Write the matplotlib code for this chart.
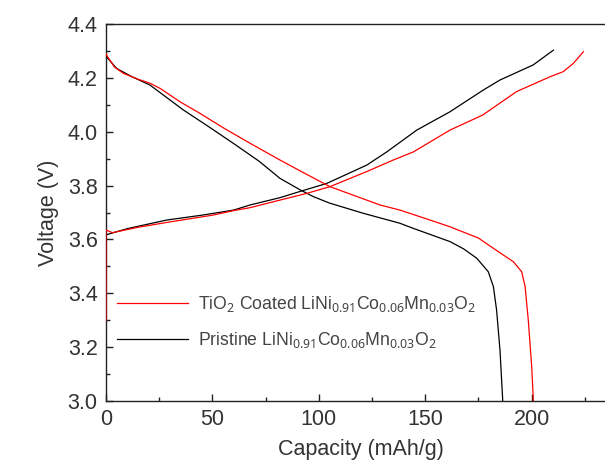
# Import libraries
import matplotlib
matplotlib.use("Agg")
import matplotlib.pyplot as plt
from matplotlib.ticker import MultipleLocator, FormatStrFormatter

# Declare data
## TiO2 coated sample
coated_charge_cap = [0, 0, 3, 15, 30, 50, 60, 67.7, 81.7, 94.3, 105.2, 122.5, 135, 144.4,
                     161.6, 177, 192.9, 208.6, 214.8, 219.6, 224.3]
coated_charge_volt = [3.30, 3.635, 3.625, 3.645, 3.665, 3.69, 3.707, 3.718, 3.746, 3.771, 3.796, 3.852, 3.895, 3.925,
                      4.006, 4.062, 4.149, 4.204, 4.223, 4.254, 4.297]
coated_discharge_cap = [0, 0.7, 4, 8.1, 15, 20.7, 25.4, 35, 44.2, 55, 67.7, 81.7, 91.1, 105.2, 128.7,
                        138.1, 152.2, 161.6, 175, 182, 191.4, 195.3, 196.9, 198.4, 200, 200.8]
coated_discharge_volt = [4.29, 4.279, 4.24, 4.217, 4.195, 4.18, 4.161, 4.11, 4.068, 4.015, 3.957, 3.895, 3.855, 3.796, 3.728,
                         3.709, 3.672, 3.647, 3.605, 3.567, 3.517, 3.48, 3.425, 3.30, 3.127, 3.0]
## Pristine sample
pristine_charge_cap = [0, 0, 10, 28.5, 45, 60, 67.7, 81.7, 91.1, 103.7, 122.5, 131.9, 146,
                       161.6, 177.3, 185.1, 200.7, 210.2]
pristine_charge_volt = [3.47, 3.617, 3.64, 3.672, 3.69, 3.709, 3.728, 3.755, 3.778, 3.808, 3.876, 3.925, 4.006,
                        4.074, 4.155, 4.192, 4.248, 4.303]
pristine_discharge_cap = [0, 5, 12, 20.7, 28, 36.3, 48, 59.8, 72, 81.7, 91, 97.4, 105, 120.9, 138.1,
                          144.4, 161.6, 168, 174.2, 179.6, 182, 183.5, 185.1, 186.4]
pristine_discharge_volt = [4.28, 4.235, 4.205, 4.173, 4.13, 4.081, 4.02, 3.957, 3.89, 3.827, 3.785, 3.759, 3.735, 3.697, 3.66,
                           3.641, 3.592, 3.565, 3.53, 3.48, 3.425, 3.338, 3.189, 3.0]

legend_labels = [r"TiO$_2$ Coated LiNi$_{0.91}$Co$_{0.06}$Mn$_{0.03}$O$_2$",
                 r"Pristine LiNi$_{0.91}$Co$_{0.06}$Mn$_{0.03}$O$_2$"]

# Fonts
plt.rcParams["font.family"] = ["Liberation Sans", "DejaVu Sans"]
plt.rcParams["mathtext.fontset"] = "custom"
plt.rcParams["mathtext.rm"] = "Noto Sans"
plt.rcParams["mathtext.it"] = "Noto Sans"
plt.rcParams["mathtext.default"] = "rm"

# Draw figure
W, H = 605, 467
fig = plt.figure(figsize=(W / 100, H / 100), dpi=100)
## axes runs off the right edge like the reference crop
ax = fig.add_axes([106 / W, (H - 401) / H, 240 * 2.1285 / W, 377 / H])

ax.plot(pristine_charge_cap, pristine_charge_volt, color="black", lw=0.9, zorder=3, label=legend_labels[1])
ax.plot(pristine_discharge_cap, pristine_discharge_volt, color="black", lw=0.9, zorder=3)
ax.plot(coated_charge_cap, coated_charge_volt, color="#ff0000", lw=0.9, zorder=3, label=legend_labels[0])
ax.plot(coated_discharge_cap, coated_discharge_volt, color="#ff0000", lw=0.9, zorder=3)

ax.set_xlim(0, 240)
ax.set_ylim(3.0, 4.4)
ax.xaxis.set_major_locator(MultipleLocator(50))
ax.xaxis.set_minor_locator(MultipleLocator(25))
ax.yaxis.set_major_locator(MultipleLocator(0.2))
ax.yaxis.set_minor_locator(MultipleLocator(0.1))
ax.yaxis.set_major_formatter(FormatStrFormatter("%.1f"))
ax.tick_params(which="major", direction="in", length=5, width=1, labelsize=15.5, colors="#222222",
               labelcolor="#333333")
ax.tick_params(which="minor", direction="in", length=3, width=1, colors="#222222")
ax.tick_params(axis="x", pad=6)
ax.tick_params(axis="y", pad=6)
for side in ax.spines.values():
    side.set_linewidth(1.0)
    side.set_color("#222222")

ax.set_xlabel("Capacity (mAh/g)", fontsize=15.5, color="#333333", labelpad=6)
ax.set_ylabel("Voltage (V)", fontsize=15.5, color="#333333", labelpad=6)

## legend order: coated first, pristine second
handles, labels = ax.get_legend_handles_labels()
leg = ax.legend(handles[::-1], labels[::-1], loc="upper left", bbox_to_anchor=(117 / W, 1 - 294 / H),
                bbox_transform=fig.transFigure, frameon=False, fontsize=12.7, handlelength=4.0,
                handletextpad=0.62, labelspacing=0.9, borderpad=0, borderaxespad=0)
for text in leg.get_texts():
    text.set_color("#444444")

fig.savefig("out.png", dpi=100)
